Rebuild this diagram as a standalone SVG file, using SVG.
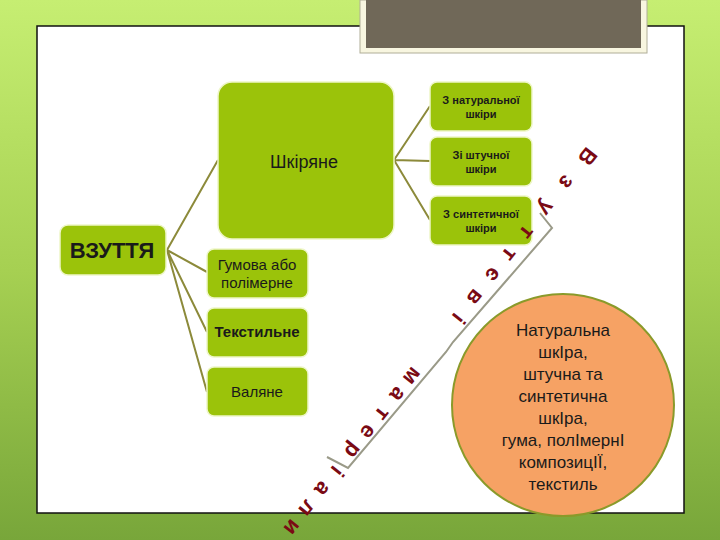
<svg xmlns="http://www.w3.org/2000/svg" width="720" height="540" viewBox="0 0 720 540">
<defs>
<linearGradient id="bg" x1="0" y1="0" x2="0" y2="1">
<stop offset="0" stop-color="#c6ee72"/><stop offset="0.5" stop-color="#a6d052"/><stop offset="1" stop-color="#78a63a"/>
</linearGradient>
</defs>
<style>
.box{fill:#9bc30a;stroke:#eef6c8;stroke-width:1.5}
.t{font-family:"Liberation Sans",Arial,sans-serif;fill:#1a1a1a;text-anchor:middle}
.c{stroke:#8c8a3a;stroke-width:2;fill:none}
.r text{font-family:"Liberation Sans",Arial,sans-serif;font-size:22px;font-weight:bold;fill:#7a0a14;text-anchor:middle}
</style>
<rect width="720" height="540" fill="url(#bg)"/>
<rect x="37" y="26" width="647" height="487" fill="#fff" stroke="#111" stroke-width="1.5"/>
<rect x="360" y="0" width="287" height="53" fill="#f8f6e0" stroke="#b0ae98"/>
<rect x="366" y="0" width="275" height="48" fill="#706858"/>
<g id="connectors">
<path class="c" d="M167 250 L218 160 M167 250 L207 272 M167 250 L207 332 M167 250 L207 392"/>
<path class="c" d="M394 160 L430 106 M394 160 L430 161 M394 160 L430 220"/>
<path d="M540 213 L552 228 L453 342 L446 352 L348 468 L327 457" fill="none" stroke="#9a9a88" stroke-width="2"/>
</g>
<g id="vzuttia"><rect class="box" x="60" y="225" width="106" height="50" rx="8"/><text class="t" x="112" y="258" font-size="22" font-weight="bold">ВЗУТТЯ</text></g>
<g id="shkiriane"><rect class="box" x="218" y="82" width="176" height="157" rx="14"/><text class="t" x="304" y="168" font-size="18">Шкіряне</text></g>
<g id="nat"><rect class="box" x="430" y="82" width="102" height="49" rx="7"/><text class="t" x="481" y="104" font-size="11" font-weight="bold">З натуральної</text><text class="t" x="481" y="118" font-size="11" font-weight="bold">шкіри</text></g>
<g id="shtuch"><rect class="box" x="430" y="137" width="102" height="49" rx="7"/><text class="t" x="481" y="159" font-size="11" font-weight="bold">Зі штучної</text><text class="t" x="481" y="173" font-size="11" font-weight="bold">шкіри</text></g>
<g id="synt"><rect class="box" x="430" y="196" width="102" height="49" rx="7"/><text class="t" x="481" y="218" font-size="11" font-weight="bold">З синтетичної</text><text class="t" x="481" y="232" font-size="11" font-weight="bold">шкіри</text></g>
<g id="guma"><rect class="box" x="207" y="249" width="101" height="49" rx="7"/><text class="t" x="257" y="270" font-size="15">Гумова або</text><text class="t" x="257" y="288" font-size="15">полімерне</text></g>
<g id="tekst"><rect class="box" x="207" y="308" width="101" height="49" rx="7"/><text class="t" x="257" y="337" font-size="15" font-weight="bold">Текстильне</text></g>
<g id="val"><rect class="box" x="207" y="367" width="101" height="49" rx="7"/><text class="t" x="257" y="397" font-size="15">Валяне</text></g>
<g id="circle">
<circle cx="563" cy="405" r="111" fill="#f6a264" stroke="#8a9a2a" stroke-width="2"/>
<g class="t" font-size="17">
<text x="563" y="336">Натуральна</text>
<text x="563" y="358">шкІра,</text>
<text x="563" y="380">штучна та</text>
<text x="563" y="402">синтетична</text>
<text x="563" y="424">шкІра,</text>
<text x="563" y="446">гума, полІмернІ</text>
<text x="563" y="468">композицІЇ,</text>
<text x="563" y="490">текстиль</text>
</g>
</g>
<g class="r" transform="translate(588,157) rotate(128.5)">
<text x="0" y="8">В</text><text x="33" y="8">з</text><text x="66" y="8">у</text><text x="97" y="8">т</text><text x="125" y="8">т</text><text x="151" y="8">є</text><text x="180" y="8">в</text><text x="207" y="8">і</text>
<text x="281" y="8">м</text><text x="304" y="8">а</text><text x="329" y="8">т</text><text x="352" y="8">е</text><text x="376" y="8">р</text><text x="402" y="8">і</text><text x="425" y="8">а</text><text x="450" y="8">л</text><text x="474" y="8">и</text>
</g>
</svg>
